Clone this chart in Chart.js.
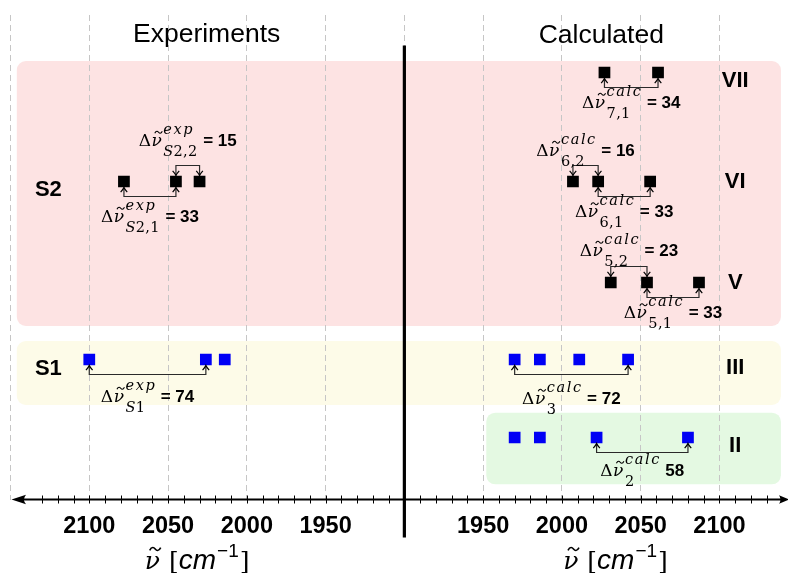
<!DOCTYPE html>
<html>
<head>
<meta charset="utf-8">
<script src="https://cdn.jsdelivr.net/npm/chart.js@4.4.1/dist/chart.umd.min.js"></script>
<style>
  html, body { margin: 0; padding: 0; background: #fff; }
  canvas { display: block; }
</style>
</head>
<body>
<canvas id="c" width="788" height="573"></canvas>
<script>
// Experimental band positions (cm^-1), drawn on the reversed left axis
const expS2 = [2078, 2045, 2030];
const expS1 = [2100, 2026, 2014];

// Calculated band positions (cm^-1) for each structure, right axis
const calcVII = [2027, 2061];
const calcVI  = [2007, 2023, 2056];
const calcV   = [2031, 2054, 2087];
const calcIII = [1970, 1986, 2011, 2042];
const calcII  = [1970, 1986, 2022, 2080];

// Vertical level of each group
const rowLevel = { S2: 31.8, S1: 14.0, VII: 42.7, VI: 31.8, V: 21.7, III: 14.0, II: 6.2 };

// Tick labels of the two wavenumber axes
const expTicks  = [2100, 2050, 2000, 1950];
const calcTicks = [1950, 2000, 2050, 2100];

// Group names and the level each name sits at
const expGroups  = ['S2', 'S1'];
const calcGroups = ['VII', 'VI', 'V', 'III', 'II'];
const groupNameLevel = { S2: 30.95, S1: 13.05, VII: 41.9, VI: 31.8, V: 21.7, III: 13.15, II: 5.35 };

// Splittings marked with brackets: pair of bands inside one group
const splittings = [
  { axis: 'x',  values: expS2,   row: 'S2',  i: 1, j: 2, side: 'top',    sup: 'exp',  sub: 'S2,2', dy: -20 },
  { axis: 'x',  values: expS2,   row: 'S2',  i: 0, j: 1, side: 'bottom', sup: 'exp',  sub: 'S2,1', dy: 25 },
  { axis: 'x',  values: expS1,   row: 'S1',  i: 0, j: 1, side: 'bottom', sup: 'exp',  sub: 'S1',   dy: 27 },
  { axis: 'xR', values: calcVII, row: 'VII', i: 0, j: 1, side: 'bottom', sup: 'calc', sub: '7,1',  dy: 20 },
  { axis: 'xR', values: calcVI,  row: 'VI',  i: 0, j: 1, side: 'top',    sup: 'calc', sub: '6,2',  dy: -10 },
  { axis: 'xR', values: calcVI,  row: 'VI',  i: 1, j: 2, side: 'bottom', sup: 'calc', sub: '6,1',  dy: 20.5 },
  { axis: 'xR', values: calcV,   row: 'V',   i: 0, j: 1, side: 'top',    sup: 'calc', sub: '5,2',  dy: -11 },
  { axis: 'xR', values: calcV,   row: 'V',   i: 1, j: 2, side: 'bottom', sup: 'calc', sub: '5,1',  dy: 20.5 },
  { axis: 'xR', values: calcIII, row: 'III', i: 0, j: 3, side: 'bottom', sup: 'calc', sub: '3',    dy: 29 },
  { axis: 'xR', values: calcII,  row: 'II',  i: 2, j: 3, side: 'bottom', sup: 'calc', sub: '2',    dy: 23, noEquals: true }
];

// Shaded group bands
const bands = [
  { x0: ['x', 2146],  x1: ['xR', 2139], y0: 17.35, y1: 43.85, color: '#fde3e3' },
  { x0: ['x', 2146],  x1: ['xR', 2139], y0: 9.45,  y1: 15.85, color: '#fdfbe8' },
  { x0: ['xR', 1952], x1: ['xR', 2139], y0: 1.52,  y1: 8.68,  color: '#e4f9e2' }
];

const BLACK = '#000000';
const BLUE = '#0000f5';
const SANS = '"Liberation Sans", Arial, sans-serif';
const SERIF = '"DejaVu Serif", serif';

function pts(values, row) {
  return values.map(v => ({ x: v, y: rowLevel[row] }));
}
function series(label, values, row, axis, color) {
  return {
    label, data: pts(values, row), xAxisID: axis, yAxisID: 'y',
    pointStyle: 'rect', pointRadius: 8.3, pointHoverRadius: 8.3,
    pointBackgroundColor: color, pointBorderWidth: 0, showLine: false
  };
}

// Script text: letters italic, digits and commas upright
function scriptRun(ctx, text, x, y, size, spacing, draw) {
  let w = 0;
  for (const ch of text) {
    ctx.font = (/[A-Za-z]/.test(ch) ? 'italic ' : '') + size + 'px ' + SERIF;
    const cw = ctx.measureText(ch).width;
    if (draw) ctx.fillText(ch, x + w, y);
    w += cw + spacing;
  }
  return w - spacing;
}

// Italic nu with a tilde accent drawn above it
function drawNuTilde(ctx, x, base, size) {
  ctx.font = 'italic ' + size + 'px ' + SERIF;
  const w = ctx.measureText('\u03bd').width;
  ctx.fillText('\u03bd', x, base);
  const cx = x + w * 0.55 + size * 0.08;
  const ty = base - size * 0.78;
  const hw = size * 0.22, a = size * 0.09;
  ctx.save();
  ctx.lineWidth = Math.max(1, size * 0.065);
  ctx.strokeStyle = ctx.fillStyle;
  ctx.beginPath();
  ctx.moveTo(cx - hw, ty + a * 0.6);
  ctx.bezierCurveTo(cx - hw * 0.6, ty - a * 1.4, cx - hw * 0.2, ty - a * 0.6, cx, ty);
  ctx.bezierCurveTo(cx + hw * 0.2, ty + a * 0.6, cx + hw * 0.6, ty + a * 1.4, cx + hw, ty - a * 0.6);
  ctx.stroke();
  ctx.restore();
  return w;
}

function drawSplitLabel(ctx, cx, base, sup, sub, valueText) {
  ctx.fillStyle = '#000';
  ctx.textAlign = 'left';
  ctx.textBaseline = 'alphabetic';
  const mainSize = 17, scrSize = 14.5;
  ctx.font = mainSize + 'px ' + SERIF; const wD = ctx.measureText('\u0394').width;
  ctx.font = 'italic ' + mainSize + 'px ' + SERIF; const wN = ctx.measureText('\u03bd').width;
  const wSup = scriptRun(ctx, sup, 0, 0, scrSize, 1.6, false);
  const wSub = scriptRun(ctx, sub, 0, 0, scrSize, 0.3, false);
  const wS = Math.max(wSup, wSub);
  ctx.font = 'bold 17px ' + SANS; const wV = ctx.measureText(valueText).width;
  const gap = 6;
  const total = wD + 0.5 + wN + 1.5 + wS + gap + wV;
  let x = cx - total / 2;
  ctx.font = mainSize + 'px ' + SERIF; ctx.fillText('\u0394', x, base); x += wD + 0.5;
  drawNuTilde(ctx, x, base, mainSize); x += wN + 1.5;
  scriptRun(ctx, sup, x, base - 12, scrSize, 1.6, true);
  scriptRun(ctx, sub, x, base + 10, scrSize, 0.3, true);
  x += wS + gap;
  ctx.font = 'bold 17px ' + SANS; ctx.fillText(valueText, x, base);
}

function arrowTip(ctx, x, y, dir) {
  // dir = +1 points down, -1 points up
  ctx.beginPath();
  ctx.moveTo(x - 3.3, y - dir * 4.6);
  ctx.quadraticCurveTo(x - 0.6, y - dir * 1.6, x, y);
  ctx.quadraticCurveTo(x + 0.6, y - dir * 1.6, x + 3.3, y - dir * 4.6);
  ctx.stroke();
}

function drawAxisTitle(ctx, cx, base) {
  const parts = [
    { nu: true, size: 25, after: 9 },
    { t: '[', f: '25px ' + SERIF, dy: 0, after: 0 },
    { t: 'cm', f: 'italic 28px ' + SANS, dy: 0, after: 1 },
    { t: '\u22121', f: '19px ' + SANS, dy: -12, after: 1 },
    { t: ']', f: '25px ' + SERIF, dy: 0, after: 0 }
  ];
  let total = 0;
  parts.forEach(p => {
    ctx.font = p.nu ? 'italic ' + p.size + 'px ' + SERIF : p.f;
    p.w = ctx.measureText(p.nu ? '\u03bd' : p.t).width;
    total += p.w + p.after;
  });
  let x = cx - total / 2;
  ctx.textAlign = 'left';
  ctx.textBaseline = 'alphabetic';
  ctx.fillStyle = '#000';
  parts.forEach(p => {
    if (p.nu) drawNuTilde(ctx, x, base, p.size);
    else { ctx.font = p.f; ctx.fillText(p.t, x, base + p.dy); }
    x += p.w + p.after;
  });
}

const decorations = {
  id: 'decorations',
  beforeDraw(chart) {
    const { ctx, scales } = chart;
    ctx.save();
    ctx.fillStyle = '#fff';
    ctx.fillRect(0, 0, chart.width, chart.height);
    bands.forEach(b => {
      const x0 = scales[b.x0[0]].getPixelForValue(b.x0[1]);
      const x1 = scales[b.x1[0]].getPixelForValue(b.x1[1]);
      const y0 = scales.y.getPixelForValue(b.y1);
      const y1 = scales.y.getPixelForValue(b.y0);
      ctx.fillStyle = b.color;
      ctx.beginPath();
      ctx.roundRect(x0, y0, x1 - x0, y1 - y0, 9);
      ctx.fill();
    });
    ctx.restore();
  },
  afterDraw(chart) {
    const { ctx, scales, chartArea } = chart;
    const xL = scales.x, xR = scales.xR, y = scales.y;
    ctx.save();

    // splitting brackets and their labels
    splittings.forEach(s => {
      const sc = scales[s.axis];
      const p1 = sc.getPixelForValue(s.values[s.i]);
      const p2 = sc.getPixelForValue(s.values[s.j]);
      const yc = y.getPixelForValue(rowLevel[s.row]);
      const top = s.side === 'top';
      const yl = top ? yc - 16 : yc + 15;
      const ye = top ? yc - 6 : yc + 6;
      ctx.strokeStyle = '#2a2a2a';
      ctx.lineWidth = 1.2;
      ctx.beginPath();
      ctx.moveTo(p1, ye); ctx.lineTo(p1, yl); ctx.lineTo(p2, yl); ctx.lineTo(p2, ye);
      ctx.stroke();
      ctx.strokeStyle = '#000';
      arrowTip(ctx, p1, ye, top ? 1 : -1);
      arrowTip(ctx, p2, ye, top ? 1 : -1);
      const diff = Math.abs(s.values[s.j] - s.values[s.i]);
      const txt = s.noEquals ? String(diff) : '= ' + diff;
      drawSplitLabel(ctx, (p1 + p2) / 2, yl + s.dy, s.sup, s.sub, txt);
    });

    // panel headings
    ctx.fillStyle = '#000';
    ctx.textAlign = 'center';
    ctx.textBaseline = 'alphabetic';
    ctx.font = '26.5px ' + SANS;
    ctx.fillText('Experiments', xL.getPixelForValue(2025.5), 42);
    ctx.fillText('Calculated', xR.getPixelForValue(2025), 42.5);

    // group names
    ctx.font = 'bold 22px ' + SANS;
    ctx.textBaseline = 'middle';
    ctx.textAlign = 'left';
    expGroups.forEach(g => ctx.fillText(g, xL.getPixelForValue(2134.5), y.getPixelForValue(groupNameLevel[g])));
    ctx.textAlign = 'center';
    calcGroups.forEach(g => ctx.fillText(g, xR.getPixelForValue(2110), y.getPixelForValue(groupNameLevel[g])));

    // wavenumber axis with arrows at both ends
    const ay = chartArea.bottom;
    ctx.strokeStyle = '#000';
    ctx.lineWidth = 1.8;
    ctx.beginPath(); ctx.moveTo(16, ay); ctx.lineTo(784, ay); ctx.stroke();
    ctx.fillStyle = '#000';
    ctx.beginPath();
    ctx.moveTo(11.5, ay); ctx.lineTo(26, ay - 4.8); ctx.quadraticCurveTo(22, ay, 26, ay + 4.8); ctx.closePath(); ctx.fill();
    ctx.beginPath();
    ctx.moveTo(789.5, ay); ctx.lineTo(779, ay - 4.3); ctx.quadraticCurveTo(782, ay, 779, ay + 4.3); ctx.closePath(); ctx.fill();
    ctx.lineWidth = 1;
    xL.ticks.forEach(t => {
      if (t.value % 10 !== 0) return;
      const px = Math.round(xL.getPixelForValue(t.value)) + 0.5;
      if (px < 28 || px > 777) return;
      ctx.beginPath(); ctx.moveTo(px, ay - 4); ctx.lineTo(px, ay + 4); ctx.stroke();
    });

    // tick labels of both axes
    ctx.font = 'bold 23.5px ' + SANS;
    ctx.textAlign = 'center';
    ctx.textBaseline = 'alphabetic';
    expTicks.forEach(v => ctx.fillText(String(v), xL.getPixelForValue(v), ay + 33.5));
    calcTicks.forEach(v => ctx.fillText(String(v), xR.getPixelForValue(v), ay + 33.5));

    // axis titles
    drawAxisTitle(ctx, xL.getPixelForValue(2031.5), ay + 69);
    drawAxisTitle(ctx, xR.getPixelForValue(2034), ay + 69);

    // divider between the two panels
    const dx = xL.getPixelForValue(1900);
    ctx.strokeStyle = '#000';
    ctx.lineWidth = 3.2;
    ctx.beginPath(); ctx.moveTo(dx, 45.5); ctx.lineTo(dx, 537.5); ctx.stroke();

    ctx.restore();
  }
};

new Chart(document.getElementById('c'), {
  type: 'scatter',
  data: {
    datasets: [
      series('S2 (exp)', expS2, 'S2', 'x', BLACK),
      series('S1 (exp)', expS1, 'S1', 'x', BLUE),
      series('VII', calcVII, 'VII', 'xR', BLACK),
      series('VI', calcVI, 'VI', 'xR', BLACK),
      series('V', calcV, 'V', 'xR', BLACK),
      series('III', calcIII, 'III', 'xR', BLUE),
      series('II', calcII, 'II', 'xR', BLUE)
    ]
  },
  options: {
    responsive: false,
    animation: false,
    devicePixelRatio: 1,
    layout: { autoPadding: false, padding: { left: 10.5, right: 0, top: 15, bottom: 73.5 } },
    plugins: { legend: { display: false }, tooltip: { enabled: false }, title: { display: false } },
    scales: {
      x: {
        type: 'linear', reverse: true, min: 1656.5, max: 2150,
        ticks: { stepSize: 10, display: false, includeBounds: false },
        grid: {
          drawTicks: false,
          lineWidth: 1,
          color: c => (c.tick && c.tick.value % 50 === 0) ? '#c6c6c6' : 'rgba(0,0,0,0)'
        },
        border: { display: false, dash: [6, 4] }
      },
      xR: {
        type: 'linear', axis: 'x', position: 'bottom', min: 1650, max: 2143.5, display: false
      },
      y: { type: 'linear', min: 0, max: 48.45, display: false }
    }
  },
  plugins: [decorations]
});
</script>
</body>
</html>
